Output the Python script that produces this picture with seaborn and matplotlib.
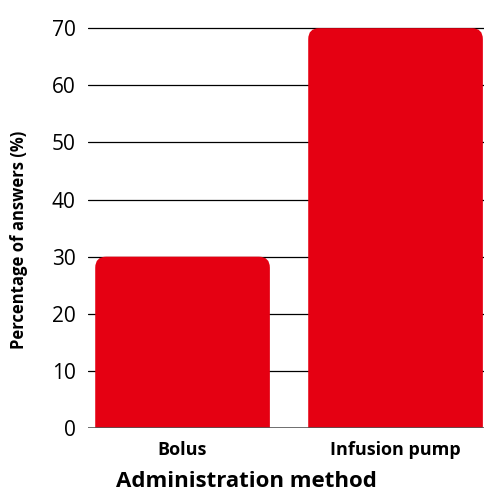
import pandas as pd
import matplotlib
matplotlib.use("Agg")
import matplotlib.pyplot as plt
import seaborn as sns
from matplotlib.patches import FancyBboxPatch

# data
methods = ["Bolus", "Infusion pump"]
percentages = [30, 70]

df = pd.DataFrame({"Method": methods, "Percentage": percentages})

sns.set_style("white")
plt.rcParams["font.family"] = ["Open Sans", "DejaVu Sans"]
plt.rcParams["text.color"] = "black"
plt.rcParams["axes.labelcolor"] = "black"
plt.rcParams["xtick.color"] = "black"
plt.rcParams["ytick.color"] = "black"

fig = plt.figure(figsize=(4.85, 4.92), dpi=100)
ax = fig.add_axes([0.1814, 0.130, 0.8186, 0.836])

bar_color = "#E50012"
sns.barplot(data=df, x="Method", y="Percentage", color=bar_color,
            width=0.82, ax=ax, zorder=3)

ax.set_xlim(-0.444, 1.42)
ax.set_ylim(0, 72)
ax.set_yticks(range(0, 71, 10))

# horizontal gridlines
for yv in range(10, 71, 10):
    ax.axhline(yv, color="black", lw=0.9, zorder=1)
ax.axhline(0, color="#555555", lw=1.2, zorder=4)

# replace the plain bars with rounded-top ones
fig.canvas.draw()
bbox = ax.get_window_extent()
x0, x1 = ax.get_xlim()
y0, y1 = ax.get_ylim()
px_x = (x1 - x0) / bbox.width
px_y = (y1 - y0) / bbox.height
radius_px = 11
for p in list(ax.patches):
    bx, bw, bh = p.get_x(), p.get_width(), p.get_height()
    p.set_visible(False)
    rounded = FancyBboxPatch((bx, -5), bw, bh + 5,
                             boxstyle=f"round,pad=0,rounding_size={radius_px * px_x}",
                             mutation_aspect=px_y / px_x,
                             facecolor=bar_color, edgecolor="none", zorder=3)
    ax.add_patch(rounded)

for s in ax.spines.values():
    s.set_visible(False)

ax.tick_params(axis="y", length=0, pad=9, labelsize=15)
ax.tick_params(axis="x", length=0, pad=9)
for lab in ax.get_xticklabels():
    lab.set_fontsize(13)
    lab.set_fontweight("bold")

ax.set_xlabel("Administration method", fontsize=16, fontweight="bold")
ax.set_ylabel("Percentage of answers (%)", fontsize=12, fontweight="bold")
ax.xaxis.set_label_coords(0.40, -0.104)
ax.yaxis.set_label_coords(-0.150, 0.457)

fig.savefig("out.png", dpi=100)
